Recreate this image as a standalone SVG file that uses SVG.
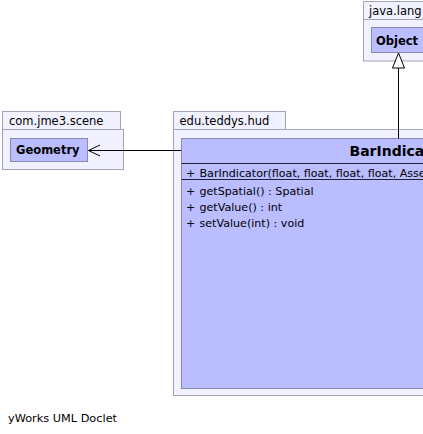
<svg xmlns="http://www.w3.org/2000/svg" width="423" height="434" viewBox="0 0 423 434">
<style>
.pkg{fill:#f1f1ff;stroke:#a3a3b8;stroke-width:1}
.node{fill:#babdff;stroke:#8a8ab0;stroke-width:1}
.sep{stroke:#222233;stroke-width:1}
.t{font-family:"DejaVu Sans",sans-serif;fill:#000}
.pl{font-size:11.5px}
.nb{font-size:11.5px;font-weight:bold}
.m{font-size:11.1px}
.edge{stroke:#000;stroke-width:1;fill:none}
</style>
<rect width="423" height="434" fill="#fff"/>
<g id="pkg-com.jme3.scene">
<rect class="pkg" x="2.5" y="111.5" width="118" height="18"/>
<rect class="pkg" x="2.5" y="129.5" width="121" height="40"/>
<text class="t pl" x="9" y="125">com.jme3.scene</text>
</g>
<g id="pkg-edu.teddys.hud">
<rect class="pkg" x="173.5" y="111.5" width="112" height="18"/>
<rect class="pkg" x="173.5" y="129.5" width="300" height="266"/>
<text class="t pl" x="179.5" y="125">edu.teddys.hud</text>
</g>
<g id="pkg-java.lang">
<rect class="pkg" x="363.5" y="1.5" width="80" height="18"/>
<rect class="pkg" x="363.5" y="19.5" width="80" height="41.5"/>
<text class="t pl" x="369" y="15">java.lang</text>
</g>
<g id="node-Geometry">
<rect class="node" x="10.5" y="138.5" width="77" height="23"/>
<text class="t nb" x="16" y="154">Geometry</text>
</g>
<g id="node-Object">
<rect class="node" x="371.5" y="27.5" width="70" height="25"/>
<text class="t nb" x="376" y="44.5">Object</text>
</g>
<g id="node-BarIndicator">
<rect class="node" x="181.5" y="138.5" width="440" height="250"/>
<text class="t" x="349.5" y="156" font-size="14" font-weight="bold">BarIndicator</text>
<line class="sep" x1="181.5" y1="163.5" x2="621.5" y2="163.5"/>
<text class="t m" x="186" y="177.3">+</text>
<text class="t m" x="199.5" y="177.3">BarIndicator(float, float, float, float, AssetManager)</text>
<line class="sep" x1="181.5" y1="179.5" x2="621.5" y2="179.5"/>
<text class="t m" x="186" y="195">+</text>
<text class="t m" x="199.5" y="195">getSpatial() : Spatial</text>
<text class="t m" x="186" y="210.5">+</text>
<text class="t m" x="199.5" y="210.5">getValue() : int</text>
<text class="t m" x="186" y="226.5">+</text>
<text class="t m" x="199.5" y="226.5">setValue(int) : void</text>
</g>
<g id="connectors">
<line class="edge" x1="181" y1="150.5" x2="88" y2="150.5"/>
<polyline class="edge" points="100,145 88.5,150.5 100,156"/>
<line class="edge" x1="398.5" y1="138.5" x2="398.5" y2="68"/>
<polygon points="398.5,53 392.5,68 404.5,68" fill="#fff" stroke="#000" stroke-width="1"/>
</g>
<text class="t" x="8" y="422" font-size="11.3">yWorks UML Doclet</text>
</svg>
